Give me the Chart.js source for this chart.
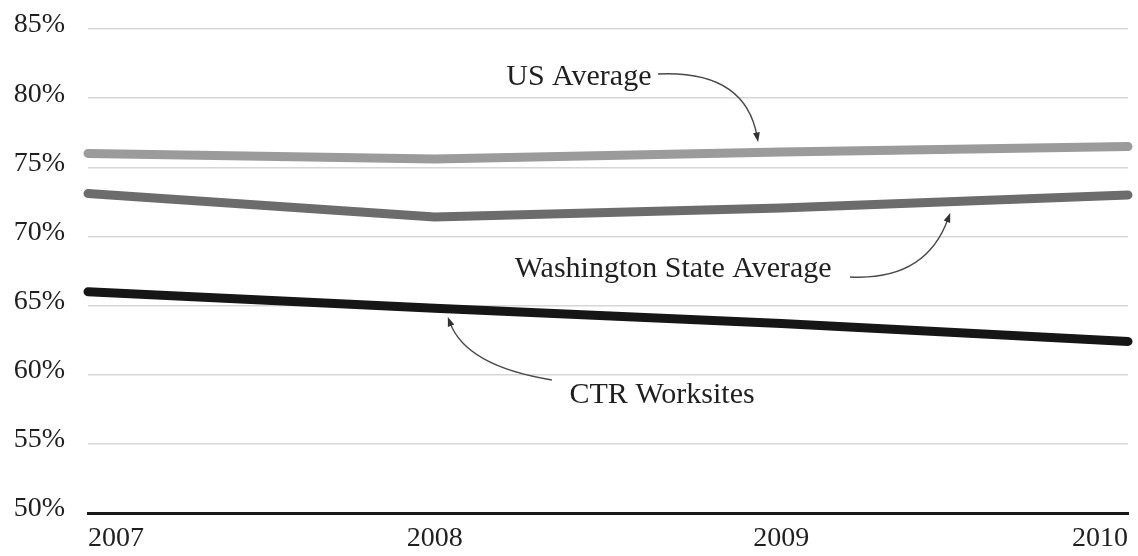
<!DOCTYPE html>
<html lang="en">
<head>
    <meta charset="UTF-8">
    <title>Commute Share Trend</title>
    <script src="https://cdn.jsdelivr.net/npm/chart.js"></script>
    <style>
        body {
            margin: 0;
            background-color: #ffffff;
        }
        .chart-container {
            width: 1138px;
            height: 556px;
        }
    </style>
</head>
<body>

<div class="chart-container">
    <canvas id="trendChart"></canvas>
</div>

<script>
// Data
const years = ['2007', '2008', '2009', '2010'];
const usAverage = [76.0, 75.6, 76.1, 76.5];
const waAverage = [73.1, 71.4, 72.05, 73.0];
const ctrWorksites = [66.0, 64.8, 63.7, 62.4];
const yTicks = [50, 55, 60, 65, 70, 75, 80, 85];

// Callout labels, placed in data units (x = category index, y = percent)
const callouts = [
    { text: 'US Average', x: 1.416, y: 80.95, from: [1.644, 81.75], ctrl: [1.895, 82.04], to: [1.933, 76.83] },
    { text: 'Washington State Average', x: 1.688, y: 67.07, from: [2.198, 67.07], ctrl: [2.417, 66.78], to: [2.487, 71.70] },
    { text: 'CTR Worksites', x: 1.656, y: 57.96, from: [1.338, 59.62], ctrl: [1.090, 60.63], to: [1.038, 64.18] }
];

const calloutPlugin = {
    id: 'callouts',
    afterDatasetsDraw(chart) {
        const ctx = chart.ctx;
        const xs = chart.scales.x;
        const ys = chart.scales.y;
        const px = v => xs.getPixelForValue(v);
        const py = v => ys.getPixelForValue(v);

        ctx.save();
        ctx.font = '30px "Liberation Serif"';
        ctx.textAlign = 'center';
        ctx.textBaseline = 'alphabetic';
        ctx.strokeStyle = '#4a4a4a';
        ctx.lineWidth = 1.4;

        callouts.forEach(c => {
            ctx.fillStyle = '#1f1f1f';
            ctx.fillText(c.text, px(c.x), py(c.y));

            const x0 = px(c.from[0]), y0 = py(c.from[1]);
            const cx = px(c.ctrl[0]), cy = py(c.ctrl[1]);
            const x1 = px(c.to[0]), y1 = py(c.to[1]);
            const ang = Math.atan2(y1 - cy, x1 - cx);
            const len = 10;

            // stop the curve a little short so the head sits on the tip
            ctx.beginPath();
            ctx.moveTo(x0, y0);
            ctx.quadraticCurveTo(cx, cy, x1 - Math.cos(ang) * 6, y1 - Math.sin(ang) * 6);
            ctx.stroke();

            ctx.beginPath();
            ctx.moveTo(x1, y1);
            ctx.lineTo(x1 - len * Math.cos(ang - 0.35), y1 - len * Math.sin(ang - 0.35));
            ctx.lineTo(x1 - len * Math.cos(ang + 0.35), y1 - len * Math.sin(ang + 0.35));
            ctx.closePath();
            ctx.fillStyle = '#333333';
            ctx.fill();
        });
        ctx.restore();
    }
};

const lineStyle = {
    pointRadius: 0,
    pointHoverRadius: 0,
    borderWidth: 9,
    borderCapStyle: 'round',
    borderJoinStyle: 'round',
    tension: 0,
    fill: false,
    clip: false
};

new Chart(document.getElementById('trendChart'), {
    type: 'line',
    data: {
        labels: years,
        datasets: [
            Object.assign({ label: 'US Average', data: usAverage, borderColor: '#9b9b9b' }, lineStyle),
            Object.assign({ label: 'Washington State Average', data: waAverage, borderColor: '#6c6c6c' }, lineStyle),
            Object.assign({ label: 'CTR Worksites', data: ctrWorksites, borderColor: '#161616' }, lineStyle)
        ]
    },
    options: {
        responsive: true,
        maintainAspectRatio: false,
        animation: false,
        layout: {
            padding: { top: 29, right: 10, bottom: 0, left: 13 }
        },
        plugins: {
            legend: { display: false },
            tooltip: { enabled: false }
        },
        scales: {
            x: {
                offset: false,
                grid: { display: false, drawTicks: false },
                border: { display: true, color: '#1a1a1a', width: 3 },
                ticks: {
                    align: 'inner',
                    padding: 9,
                    color: '#1f1f1f',
                    font: { family: 'Liberation Serif', size: 28 },
                    maxRotation: 0
                },
                afterFit: axis => {
                    axis.height = 43;
                    axis.paddingLeft = 0;
                    axis.paddingRight = 0;
                }
            },
            y: {
                min: 50,
                max: 85,
                afterBuildTicks: axis => {
                    axis.ticks = yTicks.map(v => ({ value: v }));
                },
                grid: { color: '#d6d6d6', lineWidth: 1.5, drawTicks: false },
                border: { display: false },
                ticks: {
                    padding: 23,
                    labelOffset: -4,
                    color: '#1f1f1f',
                    font: { family: 'Liberation Serif', size: 28 },
                    callback: v => v + '%'
                },
                afterFit: axis => {
                    axis.width = 75;
                    axis.paddingTop = 0;
                    axis.paddingBottom = 0;
                }
            }
        }
    },
    plugins: [calloutPlugin]
});
</script>

</body>
</html>
